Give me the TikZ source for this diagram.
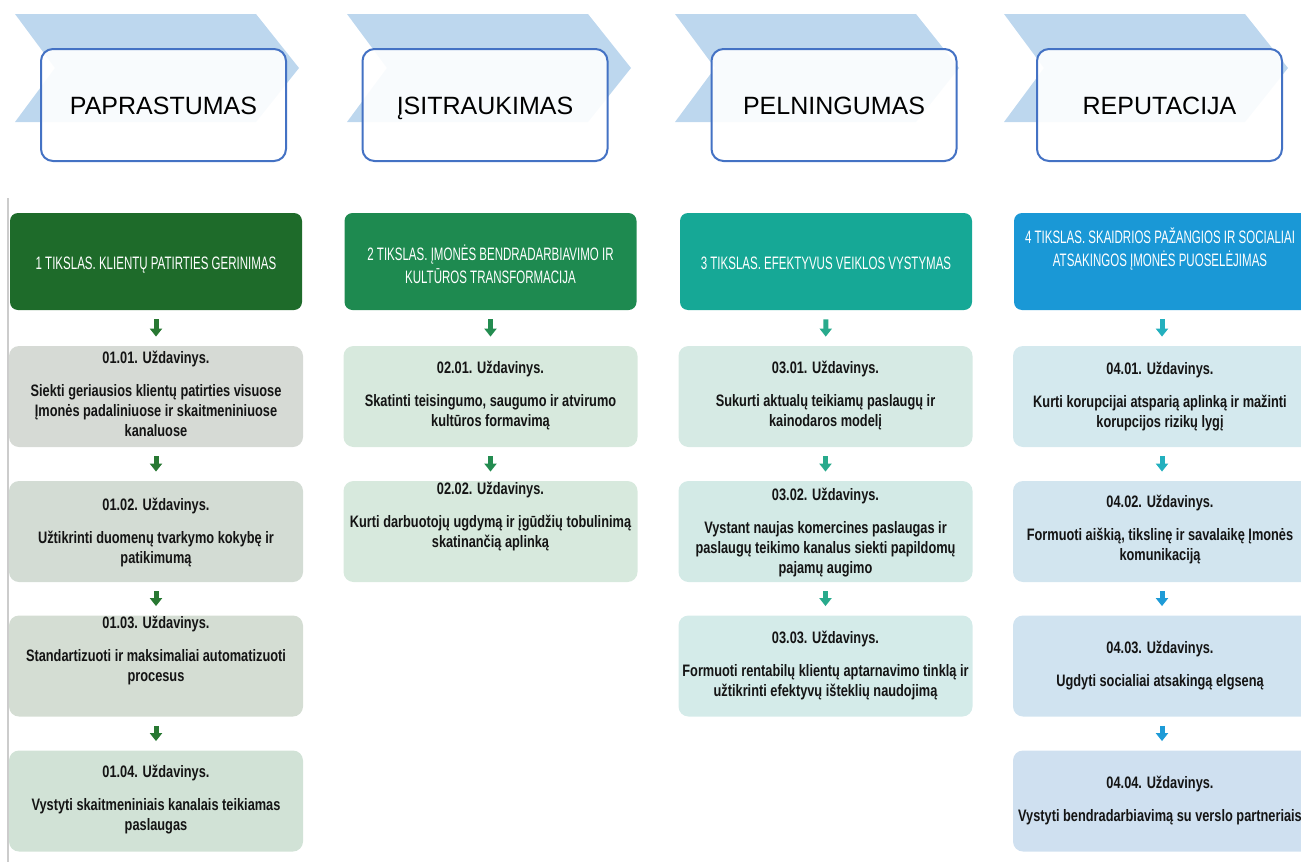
\documentclass[tikz,border=0pt]{standalone}
\usepackage{fontspec}
\setmainfont{Liberation Sans}
\newfontfamily\narrowfont[FakeStretch=0.77]{Liberation Sans}
\newfontfamily\goalfont[FakeStretch=0.64]{Liberation Sans}
\usetikzlibrary{arrows.meta}

\definecolor{chevblue}{RGB}{189,215,238}
\definecolor{boxblue}{RGB}{68,114,196}
\definecolor{goalA}{RGB}{30,107,42}
\definecolor{goalB}{RGB}{30,138,80}
\definecolor{goalC}{RGB}{22,168,150}
\definecolor{goalD}{RGB}{26,152,214}
\definecolor{taskAa}{RGB}{214,218,213}
\definecolor{taskAb}{RGB}{211,220,212}
\definecolor{taskAc}{RGB}{212,221,211}
\definecolor{taskAd}{RGB}{209,226,214}
\definecolor{taskB}{RGB}{215,233,221}
\definecolor{taskCa}{RGB}{214,234,228}
\definecolor{taskCb}{RGB}{211,234,230}
\definecolor{taskCc}{RGB}{212,235,233}
\definecolor{taskDa}{RGB}{212,233,238}
\definecolor{taskDb}{RGB}{210,229,239}
\definecolor{taskDc}{RGB}{208,227,240}
\definecolor{taskDd}{RGB}{207,224,240}
\definecolor{arrowA}{RGB}{40,120,50}
\definecolor{arrowB}{RGB}{35,140,80}
\definecolor{arrowC}{RGB}{40,170,140}
\definecolor{arrowD}{RGB}{35,176,190}
\definecolor{arrowE}{RGB}{30,155,215}

\tikzset{
  valuebox/.style={draw=boxblue, line width=1pt, fill=white, fill opacity=0.9, text opacity=1,
    rounded corners=6pt, minimum width=122.5pt, minimum height=56pt, inner sep=0pt,
    text height=9pt, text depth=0pt, font=\fontsize{12.5}{15}\selectfont},
  goalbox/.style={rounded corners=4pt, minimum width=146pt, minimum height=48.5pt, inner sep=0pt},
  taskbox/.style={rounded corners=5pt, minimum width=147pt, minimum height=50.5pt, inner sep=0pt},
  goaltext/.style={text=white, align=center, inner sep=0pt, font=\goalfont\fontsize{9}{11.5}\selectfont},
  tasktext/.style={text=black!92, align=center, inner sep=0pt, font=\narrowfont\bfseries\fontsize{8.3}{10}\selectfont},
  stepdown/.style={line width=2.5pt, -{Triangle[width=6pt,length=4pt]}, shorten <=4.5pt, shorten >=4.5pt},
}

\begin{document}
\begin{tikzpicture}[x=0.5pt,y=0.5pt,yscale=-1,xscale=1]
\useasboundingbox (0,0) rectangle (1301,862);
\clip (0,0) rectangle (1301,862);

%Shape: Chevrons
\fill[chevblue] (15,14) -- (256,14) -- (299,68) -- (256,122) -- (15,122) -- (55,68) -- cycle;
\fill[chevblue] (347,14) -- (588,14) -- (631,68) -- (588,122) -- (347,122) -- (387,68) -- cycle;
\fill[chevblue] (675,14) -- (916,14) -- (959,68) -- (916,122) -- (675,122) -- (715,68) -- cycle;
\fill[chevblue] (1004,14) -- (1245,14) -- (1288,68) -- (1245,122) -- (1004,122) -- (1044,68) -- cycle;

%Values
\node[valuebox] (v1) at (163.5,105) {PAPRASTUMAS};
\node[valuebox] (v2) at (485,105) {ĮSITRAUKIMAS};
\node[valuebox] (v3) at (834,105) {PELNINGUMAS};
\node[valuebox] (v4) at (1159.5,105) {REPUTACIJA};

%Straight Lines
\draw[line width=1pt, gray!40] (8,198) -- (8,862);

%Goals
\node[goalbox, fill=goalA] (g1) at (156,261.5) {};
\node[goalbox, fill=goalB] (g2) at (490.5,261.5) {};
\node[goalbox, fill=goalC] (g3) at (826,261.5) {};
\node[goalbox, fill=goalD, minimum width=148pt] (g4) at (1162,261.5) {};

%Tasks, column 1
\node[taskbox, fill=taskAa] (t11) at (156,396.5) {};
\node[taskbox, fill=taskAb] (t12) at (156,531.5) {};
\node[taskbox, fill=taskAc] (t13) at (156,666) {};
\node[taskbox, fill=taskAd] (t14) at (156,801) {};
%Tasks, column 2
\node[taskbox, fill=taskB] (t21) at (490.5,396.5) {};
\node[taskbox, fill=taskB] (t22) at (490.5,531.5) {};
%Tasks, column 3
\node[taskbox, fill=taskCa] (t31) at (825.5,396.5) {};
\node[taskbox, fill=taskCb] (t32) at (825.5,531.5) {};
\node[taskbox, fill=taskCc] (t33) at (825.5,666) {};
%Tasks, column 4
\node[taskbox, fill=taskDa, minimum width=149pt] (t41) at (1162,396.5) {};
\node[taskbox, fill=taskDb, minimum width=149pt] (t42) at (1162,531.5) {};
\node[taskbox, fill=taskDc, minimum width=149pt] (t43) at (1162,666) {};
\node[taskbox, fill=taskDd, minimum width=149pt] (t44) at (1162,801) {};

%Arrows
\draw[stepdown, arrowA] (g1) -- (t11);
\draw[stepdown, arrowA] (t11) -- (t12);
\draw[stepdown, arrowA] (t12) -- (t13);
\draw[stepdown, arrowA] (t13) -- (t14);
\draw[stepdown, arrowB] (g2) -- (t21);
\draw[stepdown, arrowB] (t21) -- (t22);
\draw[stepdown, arrowC] (g3) -- (t31);
\draw[stepdown, arrowC] (t31) -- (t32);
\draw[stepdown, arrowC] (t32) -- (t33);
\draw[stepdown, arrowD] (g4) -- (t41);
\draw[stepdown, arrowD] (t41) -- (t42);
\draw[stepdown, arrowE] (t42) -- (t43);
\draw[stepdown, arrowE] (t43) -- (t44);

% Text Node
\node[goaltext] (g1text) at (156,265) {1 TIKSLAS. KLIENTŲ PATIRTIES GERINIMAS};
% Text Node
\node[goaltext] (g2text) at (490.5,264) {2 TIKSLAS. ĮMONĖS BENDRADARBIAVIMO IR\\KULTŪROS TRANSFORMACIJA};
% Text Node
\node[goaltext] (g3text) at (826,263) {3 TIKSLAS. EFEKTYVUS VEIKLOS VYSTYMAS};
% Text Node
\node[goaltext] (g4text) at (1160,249) {4 TIKSLAS. SKAIDRIOS PAŽANGIOS IR SOCIALIAI\\ATSAKINGOS ĮMONĖS PUOSELĖJIMAS};

% Text Node
\node[tasktext] (t11text) at (156,393.5) {01.01. Uždavinys.\\[6.5pt]Siekti geriausios klientų patirties visuose\\Įmonės padaliniuose ir skaitmeniniuose\\kanaluose};
% Text Node
\node[tasktext] (t12text) at (156,532.5) {01.02. Uždavinys.\\[6.5pt]Užtikrinti duomenų tvarkymo kokybę ir\\patikimumą};
% Text Node
\node[tasktext] (t13text) at (156,651) {01.03. Uždavinys.\\[6.5pt]Standartizuoti ir maksimaliai automatizuoti\\procesus};
% Text Node
\node[tasktext] (t14text) at (156,800) {01.04. Uždavinys.\\[6.5pt]Vystyti skaitmeniniais kanalais teikiamas\\paslaugas};

% Text Node
\node[tasktext] (t21text) at (490.5,396) {02.01. Uždavinys.\\[6.5pt]Skatinti teisingumo, saugumo ir atvirumo\\kultūros formavimą};
% Text Node
\node[tasktext] (t22text) at (490.5,516.5) {02.02. Uždavinys.\\[6.5pt]Kurti darbuotojų ugdymą ir įgūdžių tobulinimą\\skatinančią aplinką};

% Text Node
\node[tasktext] (t31text) at (825.5,396) {03.01. Uždavinys.\\[6.5pt]Sukurti aktualų teikiamų paslaugų ir\\kainodaros modelį};
% Text Node
\node[tasktext] (t32text) at (825.5,532.5) {03.02. Uždavinys.\\[6.5pt]Vystant naujas komercines paslaugas ir\\paslaugų teikimo kanalus siekti papildomų\\pajamų augimo};
% Text Node
\node[tasktext] (t33text) at (825.5,666) {03.03. Uždavinys.\\[6.5pt]Formuoti rentabilų klientų aptarnavimo tinklą ir\\užtikrinti efektyvų išteklių naudojimą};

% Text Node
\node[tasktext] (t41text) at (1160,397) {04.01. Uždavinys.\\[6.5pt]Kurti korupcijai atsparią aplinką ir mažinti\\korupcijos rizikų lygį};
% Text Node
\node[tasktext] (t42text) at (1160,530) {04.02. Uždavinys.\\[6.5pt]Formuoti aiškią, tikslinę ir savalaikę Įmonės\\komunikaciją};
% Text Node
\node[tasktext] (t43text) at (1160,666) {04.03. Uždavinys.\\[6.5pt]Ugdyti socialiai atsakingą elgseną};
% Text Node
\node[tasktext] (t44text) at (1160,800.5) {04.04. Uždavinys.\\[6.5pt]Vystyti bendradarbiavimą su verslo partneriais};

\end{tikzpicture}
\end{document}
